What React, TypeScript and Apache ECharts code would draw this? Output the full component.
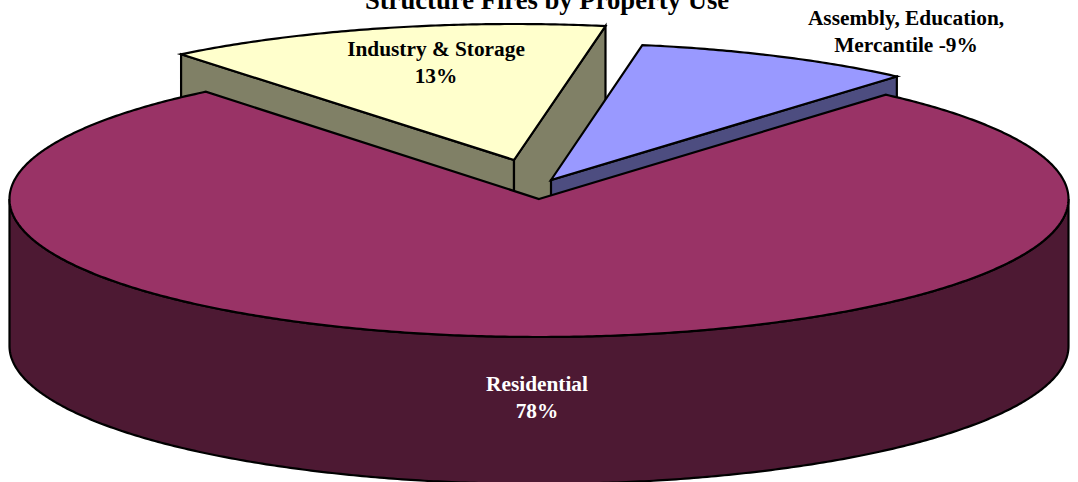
import React, { useEffect, useRef } from "react";
import * as echarts from "echarts";

// Drawing order: back slices first, the front slice last.
const categories = ["Industry & Storage", "Assembly, Education,\nMercantile", "Residential"];
const sliceLabels = ["Industry & Storage\n13%", "Assembly, Education,\nMercantile -9%", "Residential\n78%"];
const sliceShares = [13.6, 8.6, 77.8]; // wedge sizes as measured on the picture
const topColors = ["#FFFFCC", "#9999FF", "#993366"];
const wallColors = ["#808066", "#4D4D80", "#4D1933"];
const labelColors = ["#000000", "#000000", "#FFFFFF"];
const titleText = "Structure Fires by Property Use";

// 3D projection
const CX = 539;
const CY = 199;
const DEPTH = 147;
const START_DEG = -39;
const radii = [[529, 136], [528, 137], [529.5, 138]];
const explode = [[-25, -39], [12, -19], [0, 0]];
const labelOffsets = [[-103, -137], [367, -168], [-2, 198]];
const showFrontArc = [false, false, true];
const showLeftWall = [true, false, false];
const showRightWall = [true, true, false];

const total = sliceShares.reduce((a, b) => a + b, 0);
const spans = sliceShares.map((v) => (v / total) * 360);
const starts = spans.map((_, i) => START_DEG + spans.slice(0, i).reduce((a, b) => a + b, 0));

function renderSlice(params: any, api: any) {
  const i = params.dataIndex;
  const share = api.value(0);
  const span = (share / total) * 360;
  const a0 = starts[i];
  const a1 = a0 + span;
  const [rx, ry] = radii[i];
  const ax = CX + explode[i][0];
  const ay = CY + explode[i][1];
  const at = (deg: number, dz = 0): number[] => {
    const t = (deg * Math.PI) / 180;
    return [ax + rx * Math.sin(t), ay - ry * Math.cos(t) + dz];
  };
  const steps = Math.max(8, Math.ceil(span * 2));
  const arc: number[][] = [];
  for (let k = 0; k <= steps; k++) arc.push(at(a0 + (span * k) / steps));

  const stroke = { stroke: "#000", lineWidth: 2.2, lineJoin: "miter" };
  const children: any[] = [];
  const wall = (points: number[][]) =>
    children.push({ type: "polygon", shape: { points }, style: { fill: wallColors[i], ...stroke } });

  const first = at(a0);
  const last = at(a1);
  if (showLeftWall[i]) wall([[ax, ay], first, [first[0], first[1] + DEPTH], [ax, ay + DEPTH]]);
  if (showRightWall[i]) wall([[ax, ay], last, [last[0], last[1] + DEPTH], [ax, ay + DEPTH]]);
  if (showFrontArc[i]) {
    const topRim: number[][] = [];
    const botRim: number[][] = [];
    for (let d = 90; d <= 270; d += 0.5) {
      topRim.push(at(d));
      botRim.unshift(at(d, DEPTH));
    }
    wall([...topRim, ...botRim]);
  }
  children.push({
    type: "polygon",
    shape: { points: [[ax, ay], ...arc] },
    style: { fill: topColors[i], ...stroke },
  });
  children.push({
    type: "text",
    x: CX + labelOffsets[i][0],
    y: CY + labelOffsets[i][1],
    style: {
      text: sliceLabels[i],
      align: "center",
      verticalAlign: "middle",
      fontFamily: "Liberation Serif",
      fontWeight: "bold",
      fontSize: 21.33,
      lineHeight: 27,
      fill: labelColors[i],
    },
  });
  return { type: "group", children };
}

export default function App() {
  const ref = useRef<HTMLDivElement>(null);
  useEffect(() => {
    document.body.style.margin = "0";
    const chart = echarts.init(ref.current!, null, { renderer: "svg" });
    chart.setOption({
      animation: false,
      backgroundColor: "#FFFFFF",
      graphic: [
        {
          type: "text",
          x: 547,
          y: 0,
          style: {
            text: titleText,
            align: "center",
            verticalAlign: "middle",
            fontFamily: "Liberation Serif",
            fontWeight: "bold",
            fontSize: 26.67,
            fill: "#000",
          },
        },
      ],
      series: [
        {
          type: "custom",
          coordinateSystem: "none",
          renderItem: renderSlice,
          clip: false,
          data: categories.map((name, i) => ({ name, value: [sliceShares[i]] })),
        },
      ],
    });
    return () => chart.dispose();
  }, []);
  return <div ref={ref} style={{ width: 1078, height: 482 }} />;
}
